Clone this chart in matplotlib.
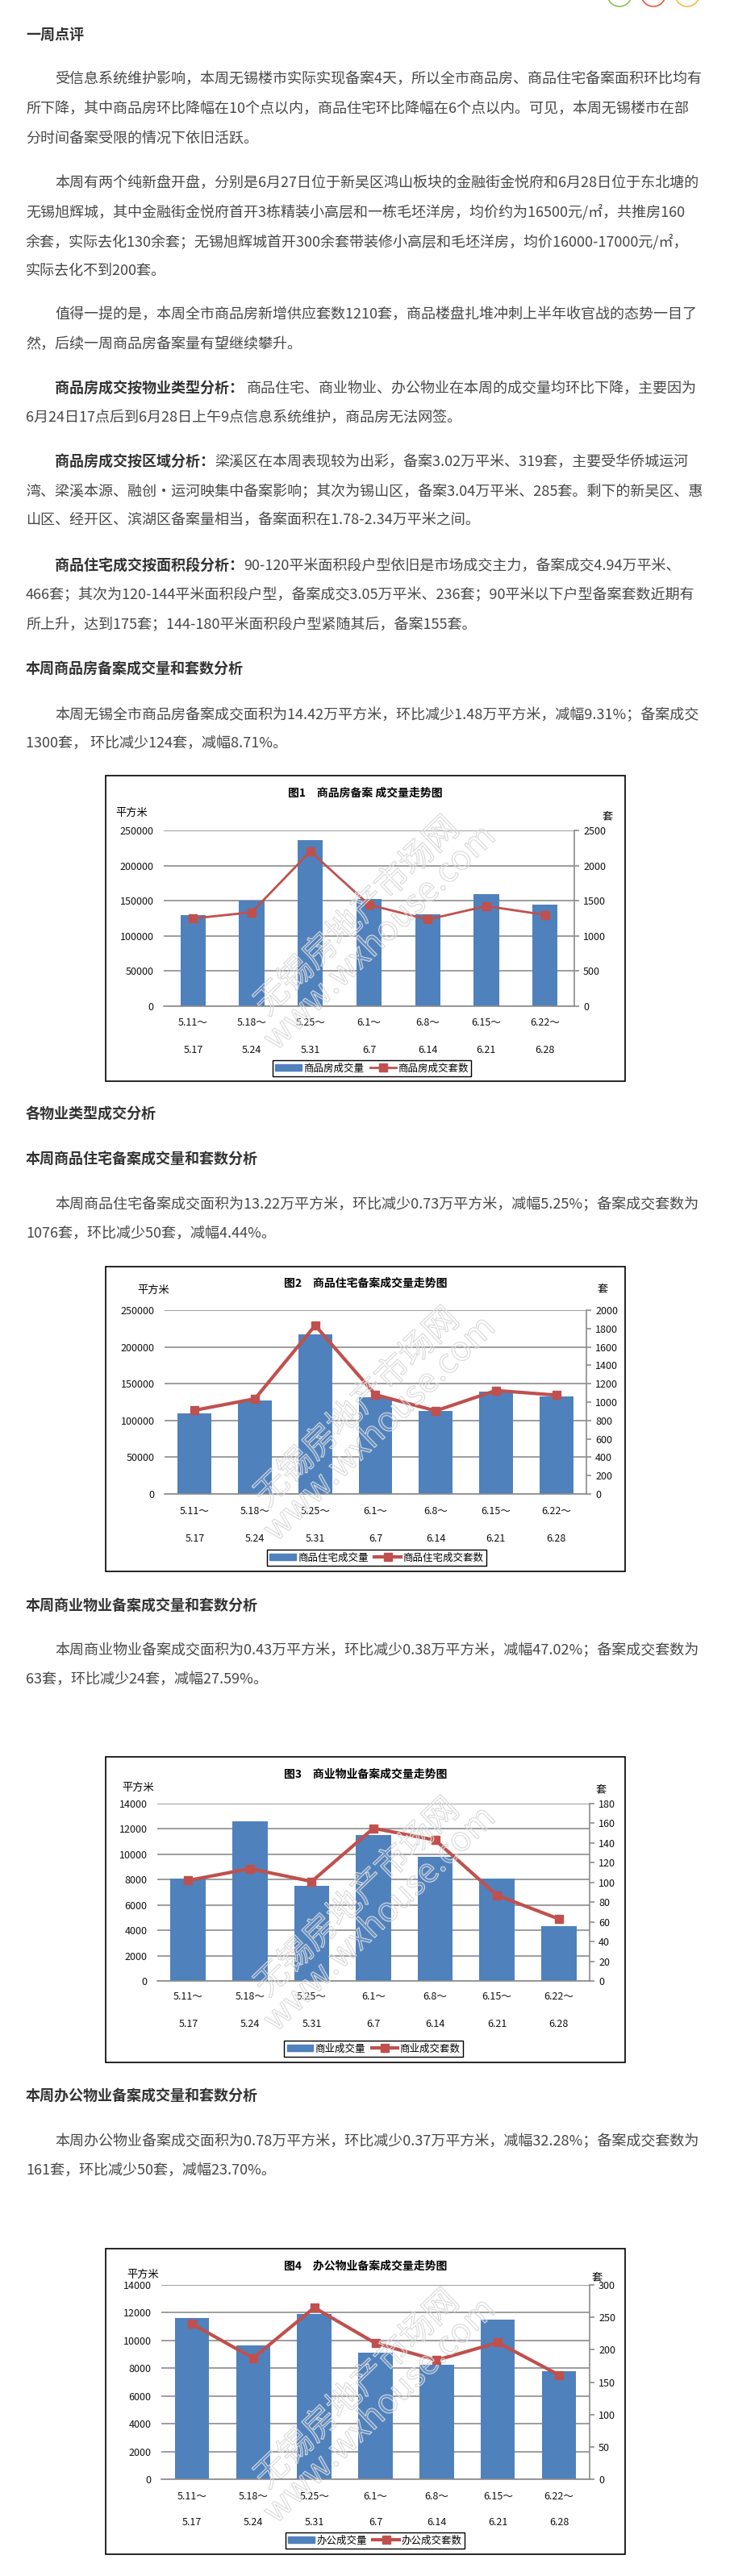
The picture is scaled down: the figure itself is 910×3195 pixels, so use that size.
import numpy as np
import matplotlib
matplotlib.use('Agg')
import matplotlib.pyplot as plt
import matplotlib.patheffects as pe
from matplotlib.patches import Rectangle, Ellipse, Patch
from matplotlib.lines import Line2D
from matplotlib.transforms import blended_transform_factory

plt.rcParams['font.family'] = ['Noto Sans CJK SC', 'DejaVu Sans']

# weekly categories
weeks_start = ['5.11～', '5.18～', '5.25～', '6.1～', '6.8～', '6.15～', '6.22～']
weeks_end = ['5.17', '5.24', '5.31', '6.7', '6.14', '6.21', '6.28']

# 图1 商品房: area (m2) / units (套)
spf_area = [129800, 150000, 236300, 152700, 130900, 159000, 144200]
spf_units = [1248, 1336, 2202, 1443, 1233, 1424, 1300]
# 图2 商品住宅
zz_area = [109900, 127400, 217500, 131800, 113100, 139500, 132200]
zz_units = [911, 1036, 1834, 1080, 905, 1126, 1076]
# 图3 商业物业
sy_area = [8060, 12580, 7490, 11500, 9780, 8100, 4300]
sy_units = [102, 114, 101, 155, 143, 87, 63]
# 图4 办公物业
bg_area = [11600, 9650, 11910, 9130, 8260, 11500, 7800]
bg_units = [240, 187, 265, 210, 184, 211, 161]

W, H = 910, 3195
fig = plt.figure(figsize=(W / 100, H / 100), dpi=100)
fig.patch.set_facecolor('white')
renderer = fig.canvas.get_renderer()

def fx(x):
    return x / W

def fy(y):
    return 1 - y / H

TXT = '#474747'
HEAD = '#333333'
BAR = '#4F81BD'
LINE = '#C0504D'
GRID = '#8c8c8c'

def heading(y, s):
    fig.text(fx(32), fy(y), s, fontsize=13, fontweight='bold', color=HEAD, va='center')

def line(y, s, x=32, bold_head=None):
    if bold_head:
        t = fig.text(fx(x), fy(y), bold_head, fontsize=13, fontweight='bold', color=HEAD, va='center')
        x = t.get_window_extent(renderer).x1
    fig.text(fx(x), fy(y), s, fontsize=13, color=TXT, va='center')

# little decoration circles cut at the top
for cx, col in [(768, '#8cc152'), (810, '#e9573f'), (852, '#f6bb42')]:
    fig.add_artist(Ellipse((fx(cx), fy(-7)), 30 / W, 30 / H, transform=fig.transFigure,
                           fill=False, ec=col, lw=1.2))

# ---- text block ----
heading(43, '一周点评')
line(98, '受信息系统维护影响，本周无锡楼市实际实现备案4天，所以全市商品房、商品住宅备案面积环比均有', x=68)
line(135, '所下降，其中商品房环比降幅在10个点以内，商品住宅环比降幅在6个点以内。可见，本周无锡楼市在部')
line(172, '分时间备案受限的情况下依旧活跃。')

line(227, '本周有两个纯新盘开盘，分别是6月27日位于新吴区鸿山板块的金融街金悦府和6月28日位于东北塘的', x=68)
line(263, '无锡旭辉城，其中金融街金悦府首开3栋精装小高层和一栋毛坯洋房，均价约为16500元/㎡，共推房160')
line(300, '余套，实际去化130余套；无锡旭辉城首开300余套带装修小高层和毛坯洋房，均价16000-17000元/㎡，')
line(336, '实际去化不到200套。')

line(390, '值得一提的是，本周全市商品房新增供应套数1210套，商品楼盘扎堆冲刺上半年收官战的态势一目了', x=68)
line(427, '然，后续一周商品房备案量有望继续攀升。')

line(482, '商品住宅、商业物业、办公物业在本周的成交量均环比下降，主要因为', x=68,
     bold_head='商品房成交按物业类型分析： ')
line(518, '6月24日17点后到6月28日上午9点信息系统维护，商品房无法网签。')

line(573, '梁溪区在本周表现较为出彩，备案3.02万平米、319套，主要受华侨城运河', x=68,
     bold_head='商品房成交按区域分析：')
line(610, '湾、梁溪本源、融创·运河映集中备案影响；其次为锡山区，备案3.04万平米、285套。剩下的新吴区、惠')
line(645, '山区、经开区、滨湖区备案量相当，备案面积在1.78-2.34万平米之间。')

line(702, '90-120平米面积段户型依旧是市场成交主力，备案成交4.94万平米、', x=68,
     bold_head='商品住宅成交按面积段分析：')
line(738, '466套；其次为120-144平米面积段户型，备案成交3.05万平米、236套；90平米以下户型备案套数近期有')
line(775, '所上升，达到175套；144-180平米面积段户型紧随其后，备案155套。')

heading(830, '本周商品房备案成交量和套数分析')
line(887, '本周无锡全市商品房备案成交面积为14.42万平方米，环比减少1.48万平方米，减幅9.31%；备案成交', x=68)
line(922, '1300套， 环比减少124套，减幅8.71%。')

heading(1382, '各物业类型成交分析')
heading(1438, '本周商品住宅备案成交量和套数分析')
line(1494, '本周商品住宅备案成交面积为13.22万平方米，环比减少0.73万平方米，减幅5.25%；备案成交套数为', x=68)
line(1530, '1076套，环比减少50套，减幅4.44%。')

heading(1992, '本周商业物业备案成交量和套数分析')
line(2047, '本周商业物业备案成交面积为0.43万平方米，环比减少0.38万平方米，减幅47.02%；备案成交套数为', x=68)
line(2083, '63套，环比减少24套，减幅27.59%。')

heading(2600, '本周办公物业备案成交量和套数分析')
line(2656, '本周办公物业备案成交面积为0.78万平方米，环比减少0.37万平方米，减幅32.28%；备案成交套数为', x=68)
line(2692, '161套，环比减少50套，减幅23.70%。')


def chart(box, plot, title, title_y, area, units, names, lmax, lstep, rmax, rstep,
          bw, lw, unit_xy, tao_xy, rows, leg_c):
    bx0, by0, bx1, by1 = box
    fig.add_artist(Rectangle((fx(bx0), fy(by1)), (bx1 - bx0) / W, (by1 - by0) / H,
                             transform=fig.transFigure, fill=False, ec='black', lw=1.2))
    px0, py0, px1, py1 = plot
    ax = fig.add_axes([fx(px0), fy(py1), (px1 - px0) / W, (py1 - py0) / H])
    x = np.arange(len(area))
    ax.bar(x, area, width=bw, color=BAR, zorder=2)
    ax.set_xlim(-0.5, len(area) - 0.5)
    ax.set_ylim(0, lmax)
    ax.set_yticks(np.arange(0, lmax + 1, lstep))
    ax.set_xticks([])
    ax.yaxis.grid(True, color=GRID, lw=1.2)
    ax.set_axisbelow(True)
    for s in ['top', 'left', 'right']:
        ax.spines[s].set_visible(False)
    ax.spines['bottom'].set_color(GRID)
    ax.spines['bottom'].set_linewidth(1.2)
    ax.tick_params(axis='y', length=0, pad=9, labelsize=9, labelcolor='#111111')

    ax2 = ax.twinx()
    ax2.plot(x, units, color=LINE, lw=lw, marker='s', ms=7, zorder=3)
    ax2.set_ylim(0, rmax)
    ax2.set_yticks(np.arange(0, rmax + 1, rstep))
    for s in ['top', 'left', 'bottom']:
        ax2.spines[s].set_visible(False)
    ax2.spines['right'].set_color(GRID)
    ax2.spines['right'].set_linewidth(1.2)
    ax2.tick_params(axis='y', length=4, width=1.2, color=GRID, pad=4, labelsize=9,
                    labelcolor='#111111')

    # category labels (two rows)
    tr = blended_transform_factory(ax.transData, fig.transFigure)
    for i in x:
        ax.text(i, fy(rows[0]), weeks_start[i], transform=tr, ha='center', va='center',
                fontsize=9, color='#111111')
        ax.text(i, fy(rows[1]), weeks_end[i], transform=tr, ha='center', va='center',
                fontsize=9, color='#111111')

    fig.text(fx((bx0 + bx1) / 2), fy(title_y), title, ha='center', va='center',
             fontsize=10, fontweight='bold', color='black')
    fig.text(fx(unit_xy[0]), fy(unit_xy[1]), '平方米', ha='center', va='center', fontsize=9.5)
    fig.text(fx(tao_xy[0]), fy(tao_xy[1]), '套', ha='center', va='center', fontsize=9.5)

    # hollow watermark
    stroke = [pe.Stroke(linewidth=0.8, foreground='#d9d9d9')]
    for dx, dy, s in [(312, 175, '无锡房地产市场网'), (340, 202, 'www.wxhouse.com')]:
        fig.text(fx(bx0 + dx), fy(by0 + dy), s, rotation=44, ha='center', va='center',
                 fontsize=30, color=(1, 1, 1, 0.12), path_effects=stroke)

    handles = [Patch(color=BAR),
               Line2D([], [], color=LINE, lw=lw, marker='s', ms=7)]
    leg = fig.legend(handles, names, loc='center', bbox_to_anchor=(fx(leg_c[0]), fy(leg_c[1])),
                     ncol=2, fontsize=9, frameon=True, fancybox=False, framealpha=1,
                     edgecolor='black', handlelength=2.6, handleheight=0.6,
                     handletextpad=0.2, columnspacing=0.6, borderpad=0.25)
    leg.get_frame().set_linewidth(1.0)


chart((131, 962, 775, 1341), (203, 1030, 712, 1248), '图1　商品房备案 成交量走势图', 984,
      spf_area, spf_units, ['商品房成交量', '商品房成交套数'],
      250000, 50000, 2500, 500, 0.43, 2.0, (163, 1008), (753, 1013), (1268, 1302), (461, 1325))

chart((131, 1571, 775, 1949), (204, 1625, 727, 1853), '图2　商品住宅备案成交量走势图', 1592,
      zz_area, zz_units, ['商品住宅成交量', '商品住宅成交套数'],
      250000, 50000, 2000, 200, 0.56, 3.0, (190, 1600), (747, 1599), (1875, 1908), (467, 1932))

chart((131, 2179, 775, 2558), (195, 2237, 731, 2457), '图3　商业物业备案成交量走势图', 2201,
      sy_area, sy_units, ['商业成交量', '商业成交套数'],
      14000, 2000, 180, 20, 0.57, 3.0, (171, 2217), (745, 2220), (2477, 2510), (463, 2541))

chart((131, 2789, 775, 3168), (200, 2834, 731, 3075), '图4　办公物业备案成交量走势图', 2811,
      bg_area, bg_units, ['办公成交量', '办公成交套数'],
      14000, 2000, 300, 50, 0.56, 3.0, (177, 2821), (740, 2825), (3096, 3129), (465, 3151))

fig.savefig('out.png', dpi=100, facecolor='white')
